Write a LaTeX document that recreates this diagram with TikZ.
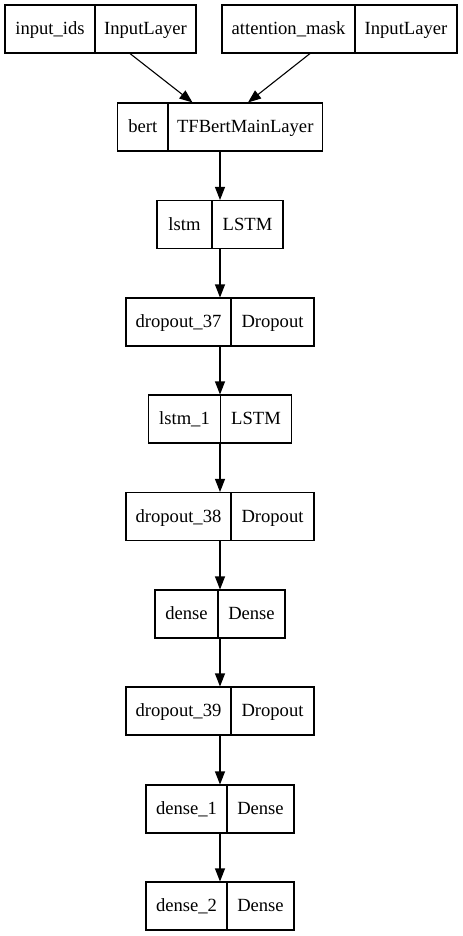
\documentclass[tikz,border=0pt]{standalone}
\usepackage{fontspec}
\setmainfont{Liberation Serif}
\usetikzlibrary{arrows.meta}

\tikzset{
  frame/.style={draw=black, line width=1.1bp},
  box/.style={frame, rectangle, inner sep=0pt, minimum height=48bp},
  lbl/.style={inner sep=0pt, anchor=base, font=\fontsize{18.6bp}{22bp}\selectfont},
  arr/.style={draw=black, line width=1.1bp, -{Triangle[length=13bp, width=10bp]}}
}

% #1 node name, #2 left x, #3 divider x, #4 right x, #5 top y,
% #6 layer name, #7 layer class
\newcommand\layerbox[7]{%
  \pgfmathsetmacro\lbw{#4-#2}%
  \node[box, minimum width=\lbw bp] (#1) at ({(#2+#4)/2},{#5+24}) {};
  \node[lbl] (#1-name) at ({(#2+#3)/2},{#5+29.5}) {#6};
  \node[lbl] (#1-class) at ({(#3+#4)/2},{#5+29.5}) {#7};
  \draw[frame] (#3,#5) -- (#3,{#5+48});
}

\begin{document}
\begin{tikzpicture}[x=1bp, y=-1bp]
  \fill[white] (0,0) rectangle (463,936);
  \useasboundingbox (0,0) rectangle (463,936);

  \layerbox{ids}{5}{95}{196}{5}{input\_ids}{InputLayer}
  \layerbox{mask}{222}{355}{457}{5}{attention\_mask}{InputLayer}
  \layerbox{bert}{117.5}{168}{322.5}{103}{bert}{TFBertMainLayer}
  \layerbox{lstm}{157}{212}{283}{200.5}{lstm}{LSTM}
  \layerbox{drop37}{126}{231}{314}{298}{dropout\_37}{Dropout}
  \layerbox{lstm1}{148.5}{220.5}{291.5}{395}{lstm\_1}{LSTM}
  \layerbox{drop38}{126}{231}{314}{492.5}{dropout\_38}{Dropout}
  \layerbox{dense}{155}{218}{285}{590}{dense}{Dense}
  \layerbox{drop39}{126}{231}{314}{687}{dropout\_39}{Dropout}
  \layerbox{dense1}{146}{227}{294}{785}{dense\_1}{Dense}
  \layerbox{dense2}{146}{227}{294}{882}{dense\_2}{Dense}

  % inputs into the encoder
  \draw[arr] ([xshift=29.5bp]ids.south) -- ([xshift=-27.5bp]bert.north);
  \draw[arr] ([xshift=-29.5bp]mask.south) -- ([xshift=28bp]bert.north);

  % sequential stack
  \draw[arr] (bert.south) -- (lstm.north);
  \draw[arr] (lstm.south) -- (drop37.north);
  \draw[arr] (drop37.south) -- (lstm1.north);
  \draw[arr] (lstm1.south) -- (drop38.north);
  \draw[arr] (drop38.south) -- (dense.north);
  \draw[arr] (dense.south) -- (drop39.north);
  \draw[arr] (drop39.south) -- (dense1.north);
  \draw[arr] (dense1.south) -- (dense2.north);
\end{tikzpicture}
\end{document}
